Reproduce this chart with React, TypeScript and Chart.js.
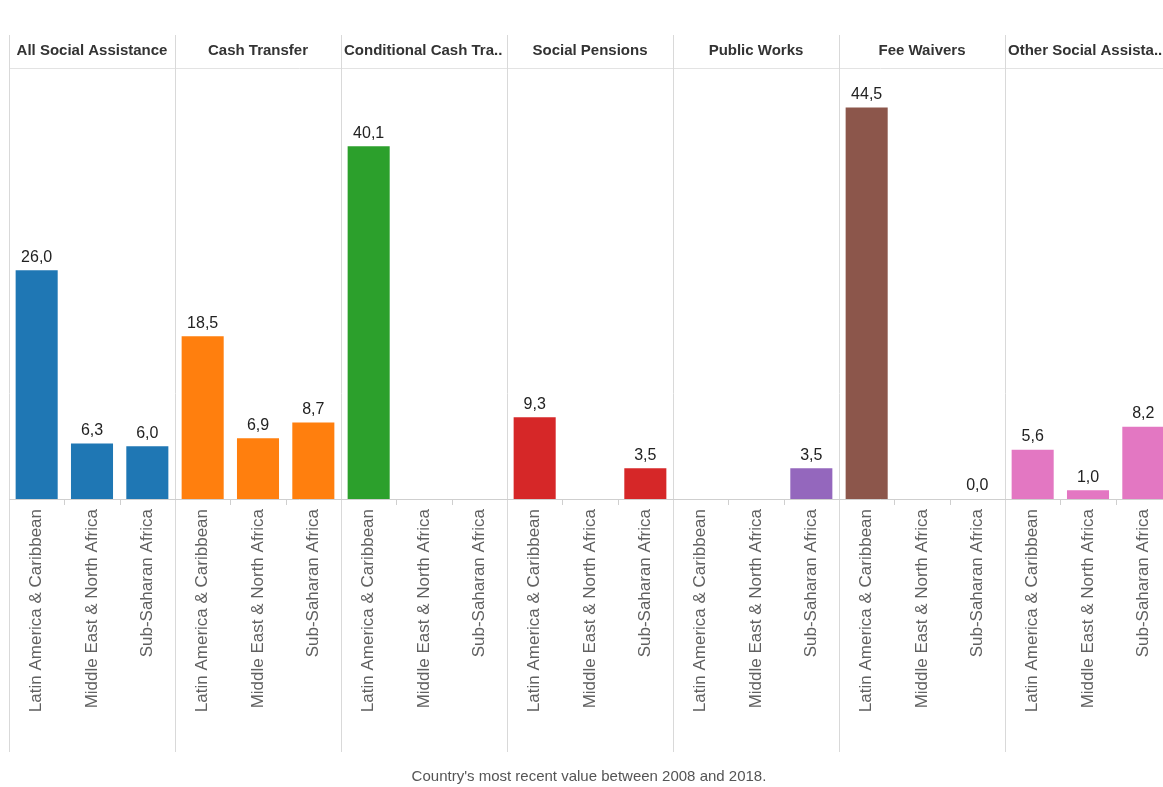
import React, { useEffect, useRef } from "react";
import { Chart, registerables } from "chart.js";

Chart.register(...registerables);

const panels = [
  "All Social Assistance",
  "Cash Transfer",
  "Conditional Cash Transfer",
  "Social Pensions",
  "Public Works",
  "Fee Waivers",
  "Other Social Assistance",
];
const regions = ["Latin America & Caribbean", "Middle East & North Africa", "Sub-Saharan Africa"];

const allSocialAssistance = [26.0, 6.3, 6.0];
const cashTransfer = [18.5, 6.9, 8.7];
const conditionalCashTransfer = [40.1, null, null];
const socialPensions = [9.3, null, 3.5];
const publicWorks = [null, null, 3.5];
const feeWaivers = [44.5, null, 0.0];
const otherSocialAssistance = [5.6, 1.0, 8.2];

const panelColors = ["#1f77b4", "#ff7f0e", "#2ca02c", "#d62728", "#9467bd", "#8c564b", "#e377c2"];
const footerText = "Country's most recent value between 2008 and 2018.";

const seriesByPanel = [
  allSocialAssistance,
  cashTransfer,
  conditionalCashTransfer,
  socialPensions,
  publicWorks,
  feeWaivers,
  otherSocialAssistance,
];

const FONT = "'Liberation Sans', Arial, sans-serif";

export default function App() {
  const ref = useRef<HTMLCanvasElement | null>(null);

  useEffect(() => {
    const labels: string[] = [];
    const values: (number | null)[] = [];
    const colors: string[] = [];
    seriesByPanel.forEach((s, p) => {
      s.forEach((v, i) => {
        labels.push(regions[i]);
        values.push(v);
        colors.push(panelColors[p]);
      });
    });

    const HEADER_TOP = 35;
    const LINE_BOTTOM = 752;

    const facetPlugin = {
      id: "facets",
      beforeDatasetsDraw(chart: any) {
        const { ctx, chartArea } = chart;
        const { left, right, top, bottom } = chartArea;
        const nP = panels.length;
        const pw = (right - left) / nP;
        const cw = pw / regions.length;
        ctx.save();
        ctx.strokeStyle = "#e3e3e3";
        ctx.lineWidth = 1;
        ctx.beginPath();
        ctx.moveTo(left, Math.round(top) + 0.5);
        ctx.lineTo(right, Math.round(top) + 0.5);
        ctx.stroke();
        ctx.strokeStyle = "#d9d9d9";
        for (let k = 0; k <= nP; k++) {
          const x = Math.round(left + k * pw) + 0.5;
          ctx.beginPath();
          ctx.moveTo(x, HEADER_TOP);
          ctx.lineTo(x, LINE_BOTTOM);
          ctx.stroke();
        }
        ctx.strokeStyle = "#cfcfcf";
        ctx.beginPath();
        ctx.moveTo(left, Math.round(bottom) + 0.5);
        ctx.lineTo(right, Math.round(bottom) + 0.5);
        ctx.stroke();
        for (let k = 0; k < nP; k++) {
          for (let j = 1; j < regions.length; j++) {
            const x = Math.round(left + k * pw + j * cw) + 0.5;
            ctx.beginPath();
            ctx.moveTo(x, bottom);
            ctx.lineTo(x, bottom + 6);
            ctx.stroke();
          }
        }
        ctx.font = "bold 15px " + FONT;
        ctx.fillStyle = "#333333";
        ctx.textBaseline = "middle";
        const hy = (HEADER_TOP + top) / 2 - 1;
        panels.forEach((name, k) => {
          const x0 = left + k * pw;
          const avail = pw - 6;
          if (ctx.measureText(name).width <= avail) {
            ctx.textAlign = "center";
            ctx.fillText(name, x0 + pw / 2, hy);
          } else {
            let t = name;
            while (t.length > 1 && ctx.measureText(t + "..").width > avail) t = t.slice(0, -1);
            ctx.textAlign = "left";
            ctx.fillText(t + "..", x0 + 3, hy);
          }
        });
        ctx.restore();
      },
      afterDatasetsDraw(chart: any) {
        const { ctx } = chart;
        const meta = chart.getDatasetMeta(0);
        const data = chart.data.datasets[0].data;
        ctx.save();
        ctx.font = "16px " + FONT;
        ctx.fillStyle = "#222222";
        ctx.textAlign = "center";
        ctx.textBaseline = "bottom";
        meta.data.forEach((bar: any, i: number) => {
          const v = data[i];
          if (v === null || v === undefined) return;
          ctx.fillText(v.toFixed(1).replace(".", ","), bar.x, bar.y - 5);
        });
        ctx.restore();
      },
    };

    const chart = new Chart(ref.current as HTMLCanvasElement, {
      type: "bar",
      data: {
        labels,
        datasets: [
          {
            data: values,
            backgroundColor: colors,
            barPercentage: 0.76,
            categoryPercentage: 1,
          },
        ],
      },
      options: {
        animation: false,
        responsive: false,
        devicePixelRatio: 1,
        layout: { padding: { left: 9, right: 9, top: 68, bottom: 35 } },
        plugins: { legend: { display: false }, tooltip: { enabled: false } },
        scales: {
          x: {
            type: "category",
            offset: true,
            grid: { display: false, drawTicks: false },
            border: { display: false },
            afterFit: (scale: any) => {
              scale.height = 253;
            },
            ticks: {
              autoSkip: false,
              minRotation: 90,
              maxRotation: 90,
              padding: 10,
              color: "#606060",
              font: { family: FONT, size: 17 },
            },
          },
          y: {
            display: false,
            min: 0,
            max: 49,
          },
        },
      },
      plugins: [facetPlugin],
    } as any);
    return () => chart.destroy();
  }, []);

  return (
    <div
      style={{
        position: "fixed",
        left: 0,
        top: 0,
        width: 1163,
        height: 787,
        overflow: "hidden",
        background: "#ffffff",
      }}
    >
      <canvas ref={ref} width={1180} height={787} style={{ display: "block", width: 1180, height: 787 }} />
      <div
        style={{
          position: "absolute",
          left: 0,
          width: 1178,
          top: 767,
          textAlign: "center",
          fontFamily: FONT,
          fontSize: 15,
          color: "#555555",
        }}
      >
        {footerText}
      </div>
    </div>
  );
}
